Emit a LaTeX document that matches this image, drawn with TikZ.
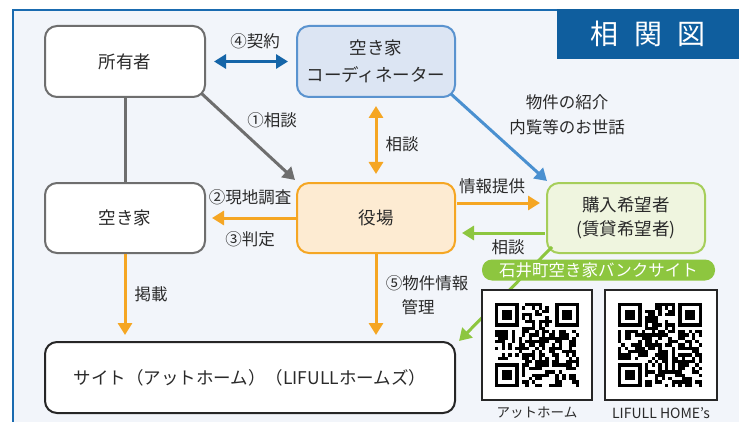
\documentclass[tikz,border=0pt]{standalone}
\usepackage{fontspec}
\setmainfont{Noto Sans CJK JP}
\usetikzlibrary{arrows.meta,calc}
\definecolor{framebg}{HTML}{F2F5FA}
\definecolor{frameblue}{HTML}{1A6BB0}
\definecolor{titleblue}{HTML}{0F5E9E}
\definecolor{graybd}{HTML}{6E6E6E}
\definecolor{coordfill}{HTML}{DCE5F3}
\definecolor{coordbd}{HTML}{5A93CF}
\definecolor{yakufill}{HTML}{FDEBD2}
\definecolor{orangec}{HTML}{F5A623}
\definecolor{buyfill}{HTML}{EFF5DF}
\definecolor{buybd}{HTML}{A6CE5A}
\definecolor{greenc}{HTML}{8DC63F}
\definecolor{darkblue}{HTML}{1565A8}
\definecolor{lightblue}{HTML}{4A90D0}
\definecolor{txt}{HTML}{2A2A2A}
\newcommand{\myqr}[3]{%
  \pgfmathsetseed{#3}%
  \foreach \i in {0,...,24}{%
    \foreach \j in {0,...,24}{%
      \pgfmathtruncatemacro{\bit}{rnd+0.55}%
      \ifnum\bit=1 \fill[black] ({#1+\i*3.36},{#2+\j*3.36}) rectangle ++(3.36,3.36);\fi
    }%
  }%
  \foreach \fx/\fy in {0/0,17/0,0/17}{%
    \fill[white] ({#1+\fx*3.36},{#2+\fy*3.36}) rectangle ++(8*3.36,8*3.36);
  }%
  \foreach \fx/\fy in {0/0,18/0,0/18}{%
    \fill[black] ({#1+\fx*3.36},{#2+\fy*3.36}) rectangle ++(7*3.36,7*3.36);
    \fill[white] ({#1+\fx*3.36+3.36},{#2+\fy*3.36+3.36}) rectangle ++(5*3.36,5*3.36);
    \fill[black] ({#1+\fx*3.36+2*3.36},{#2+\fy*3.36+2*3.36}) rectangle ++(3*3.36,3*3.36);
  }%
}
\begin{document}
\begin{tikzpicture}[x=1pt,y=-1pt,
  box/.style={rounded corners=12pt, line width=2pt, minimum width=158pt, minimum height=70pt, align=center, text=txt, font=\fontsize{17.5}{27}\selectfont},
  lbl/.style={text=txt, font=\fontsize{16.5}{25}\selectfont, align=center, inner sep=0pt},
  arr/.style={line width=3pt, -{Triangle[length=12pt,width=14pt]}},
  dbl/.style={line width=3pt, {Triangle[length=12pt,width=14pt]}-{Triangle[length=12pt,width=14pt]}}
]
\useasboundingbox (0,0) rectangle (739,425);
\fill[white] (0,0) rectangle (739,425);
\fill[framebg] (12,9) rectangle (739,421.5);
\draw[frameblue, line width=2.2pt] (13.1,421.5) -- (13.1,10.1) -- (739,10.1);
\node[fill=titleblue, text=white, minimum width=182pt, minimum height=50pt, inner sep=0pt, anchor=north west, font=\fontsize{28}{30}\selectfont] (title) at (557,9) {相\hspace{0.55em}関\hspace{0.55em}図};

% nodes
\node[box, draw=graybd, fill=white, minimum width=160pt, minimum height=71pt] (owner) at (125,61.5) {所有者};
\node[box, draw=coordbd, fill=coordfill, minimum height=71pt] (coord) at (376,61.5) {空き家\\コーディネーター};
\node[box, draw=graybd, fill=white, minimum width=160pt] (akiya) at (125,218) {空き家};
\node[box, draw=orangec, fill=yakufill] (yakuba) at (376,218) {役場};
\node[box, draw=buybd, fill=buyfill, font=\fontsize{17.5}{24}\selectfont] (buyer) at (626,218) {購入希望者\\(賃貸希望者)};
\node[box, draw=black!85, fill=white, minimum width=410pt, minimum height=71pt] (site) at (250,377.5) {サイト（アットホーム）（LIFULLホームズ）};

% connectors
\draw[dbl, darkblue] ([shift={(8,0)}]owner.east) -- ([shift={(-8,0)}]coord.west);
\draw[graybd, line width=3pt] (owner.south) -- (akiya.north);
\draw[arr, graybd] ([shift={(-5,-5)}]owner.south east) -- ([shift={(-1,-2)}]yakuba.north west);
\draw[dbl, orangec] ([shift={(0,8)}]coord.south) -- ([shift={(0,-8)}]yakuba.north);
\draw[arr, lightblue] ([shift={(-5,-4)}]coord.south east) -- ([shift={(1,-1)}]buyer.north west);
\draw[arr, orangec] (yakuba.west) -- ([shift={(6,0)}]akiya.east);
\draw[arr, orangec] ([shift={(1,-15)}]yakuba.east) -- ([shift={(-6,-15)}]buyer.west);
\draw[arr, greenc] ([shift={(-1,15)}]buyer.west) -- ([shift={(6,15)}]yakuba.east);
\draw[arr, orangec] (akiya.south) -- ($(akiya.south |- site.north)+(0,-6)$);
\draw[arr, orangec] (yakuba.south) -- ($(yakuba.south |- site.north)+(0,-6)$);
\draw[arr, greenc] ([shift={(6,-7)}]buyer.south west) -- ([shift={(3,0)}]site.north east);

% labels
\node[lbl] (l4) at (255,41) {④契約};
\node[lbl] (l1) at (272,120) {①相談};
\node[lbl] (lc) at (402,144) {相談};
\node[lbl] (lint) at (567,115) {物件の紹介\\内覧等のお世話};
\node[lbl] (l2) at (250,197) {②現地調査};
\node[lbl] (l3) at (250,239) {③判定};
\node[lbl] (linfo) at (492,186) {情報提供};
\node[lbl] (lsoudan) at (508,247) {相談};
\node[lbl] (lkeisai) at (151,294) {掲載};
\node[lbl] (l5) at (427,283) {⑤物件情報};
\node[lbl] (lkanri) at (418,307) {管理};

% bank site
\node[fill=greenc, rounded corners=10pt, minimum width=233pt, minimum height=21pt, inner sep=0pt, text=white, font=\fontsize{16.5}{20}\selectfont] (pill) at (598.5,270) {石井町空き家バンクサイト};
\node[draw=black!85, fill=white, line width=1.6pt, minimum width=110pt, minimum height=110pt, inner sep=0pt] (qr1) at (537,345) {};
\node[draw=black!85, fill=white, line width=1.6pt, minimum width=112pt, minimum height=110pt, inner sep=0pt] (qr2) at (661,345) {};
\myqr{495}{303}{7}
\myqr{618}{303}{42}
\node[lbl, font=\fontsize{13.5}{16}\selectfont] (q1lbl) at (537,413) {アットホーム};
\node[lbl, font=\fontsize{14}{16}\selectfont] (q2lbl) at (661,413) {LIFULL HOME's};
\end{tikzpicture}
\end{document}
